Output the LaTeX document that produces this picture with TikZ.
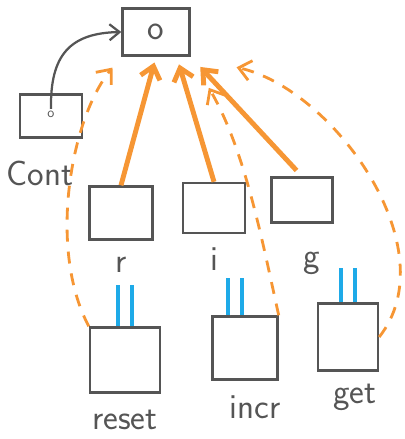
\documentclass[tikz,border=0pt]{standalone}
\usepackage{tikz}
\usetikzlibrary{arrows.meta,positioning,calc}
\definecolor{pencil}{RGB}{85,85,85}
\definecolor{crayon}{RGB}{246,150,52}
\definecolor{bindblue}{RGB}{30,170,232}

\begin{document}
\begin{tikzpicture}[x=0.025cm,y=-0.025cm,
  every node/.style={font=\fontsize{25}{28}\selectfont\sffamily,text=pencil},
  cell/.style={draw=pencil,line width=1.7pt,inner sep=0pt},
  lbl/.style={inner sep=0pt,anchor=base},
  ref/.style={crayon,line width=3.5pt,-{Straight Barb[length=0.3cm,width=0.5cm]}},
  weak/.style={crayon,line width=2pt,dash pattern=on 0.3cm off 0.25cm,-{Straight Barb[length=0.3cm,width=0.5cm]}},
  bind/.style={bindblue,line width=0.1cm,double=white,double distance=0.25cm}]
  \useasboundingbox (0,0) rectangle (405,439);
  % the object and the continuation pointing at it
  \node[cell,minimum width=1.675cm,minimum height=1.175cm] (top) at (156,32) {o};
  \node[cell,minimum width=1.55cm,minimum height=1.075cm] (cont) at (51,116) {};
  \node[font=\normalsize\sffamily,inner sep=1pt] (cptr) at (51,114) {o};
  \node[below=1.175cm of cont,xshift=-0.275cm,lbl] (contl) {Cont};
  % captured cells
  \node[cell,minimum width=1.575cm,minimum height=1.325cm] (r) at (121,213) {};
  \node[cell,minimum width=1.55cm,minimum height=1.25cm] (i) at (214,208) {};
  \node[cell,minimum width=1.525cm,minimum height=1.125cm] (g) at (302,200) {};
  \node[below=0.8cm of r,lbl] (rl) {r};
  \node[below=0.9cm of i,lbl] (il) {i};
  \node[below=1.1cm of g,xshift=0.25cm,lbl] (gl) {g};
  % closures
  \node[cell,minimum width=1.75cm,minimum height=1.625cm] (reset) at (125,360) {};
  \node[cell,minimum width=1.625cm,minimum height=1.575cm] (incr) at (245,348) {};
  \node[cell,minimum width=1.5cm,minimum height=1.675cm] (get) at (348,337) {};
  \node[below=0.9cm of reset,lbl] (resetl) {reset};
  \node[below=0.95cm of incr,xshift=0.25cm,lbl] (incrl) {incr};
  \node[below=0.8cm of get,xshift=0.175cm,lbl] (getl) {get};

  \draw[pencil,line width=1.6pt,-{Straight Barb[length=0.25cm,width=0.4cm]}] (cptr.north) .. controls (50,55) and (70,33) .. (top.west);

  % references to o
  \draw[ref,shorten >=0.15cm] (r.north) -- (top.south);
  \draw[ref,shorten >=0.2cm] (i.north) -- (top.-50);
  \draw[ref,shorten <=0.2cm,shorten >=0.35cm] (g.north) -- (top.south east);
  \draw[weak,shorten >=0.35cm] (reset.north west) .. controls (48,250) and (70,120) .. (top.south west);
  \draw[weak,shorten >=0.9cm] (incr.north east) .. controls (262,240) and (245,150) .. (top.south east);
  \draw[weak,shorten >=1.175cm] (get.east) .. controls (448,250) and (335,90) .. (top.south east);

  % bindings
  \draw[bind,shorten >=0.3cm] (reset.north) -- (reset.north |- rl.south);
  \draw[bind,shorten >=0.2cm] ([xshift=-0.25cm]incr.north) -- ([xshift=-0.25cm]incr.north |- il.south);
  \draw[bind] (get.north) -- (get.north |- gl.base);
\end{tikzpicture}
\end{document}
